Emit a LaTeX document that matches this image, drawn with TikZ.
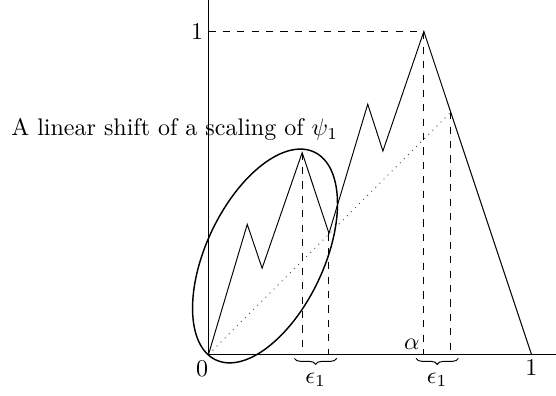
\documentclass[tikz,border=0pt]{standalone}
\usetikzlibrary{decorations.pathreplacing}

\begin{document}
\begin{tikzpicture}[
    x=4.73cm, y=4.73cm,
    axis line/.style={draw=black},
    graph line/.style={draw=black},
    guide line/.style={dashed, draw=black},
    diag line/.style={dotted, draw=black!70},
    zoom ring/.style={semithick, draw=black},
    eps brace/.style={decorate, decoration={brace, mirror, amplitude=2.5pt}}
]
\useasboundingbox (-0.6455,-0.1285) rectangle (1.0759,1.0975);

% 坐标轴
\coordinate (O) at (0,0);
\coordinate (Xend) at (1.0759,0);
\coordinate (Yend) at (0,1.0975);
\draw[axis line] (O) -- (Xend);
\draw[axis line] (O) -- (Yend);

% 折线顶点
\coordinate (P1) at (0.120,0.403);
\coordinate (P2) at (0.166,0.267);
\coordinate (P3) at (0.290,0.625);
\coordinate (P4) at (0.373,0.375);
\coordinate (P5) at (0.493,0.775);
\coordinate (P6) at (0.540,0.630);
\coordinate (P7) at (0.6667,1);
\coordinate (P8) at (1,0);
\coordinate (Q)  at (0.75,0.75);

\draw[graph line] (O) -- (P1) -- (P2) -- (P3) -- (P4) -- (P5) -- (P6) -- (P7) -- (P8);
\draw[diag line] (O) -- (Q);

% 虚线
\draw[guide line] (P7 -| O) -- (P7) -- (P7 |- O);
\foreach \p in {P3, P4, Q} \draw[guide line] (\p) -- (\p |- O);

% 椭圆
\coordinate (E) at (0.175,0.305);
\draw[zoom ring, rotate around={64.6:(E)}] (E) ellipse [x radius=0.356, y radius=0.182];

% 标签
\node[left, inner sep=2pt] (Ylab) at (P7 -| O) {1};
\node[below, inner sep=2pt] (Xlab) at (P8) {1};
\node[anchor=north east, inner sep=0pt] (Olab) at (0,-0.016) {0};
\node[anchor=south east, inner sep=0pt] (Alab) at (0.655,0.014) {$\alpha$};
\node[anchor=base west, inner sep=0pt] (Cap) at (-0.612,0.6765) {A linear shift of a scaling of $\psi_1$};

\foreach \s/\n in {0.29/A, 0.6667/B}
  \draw[eps brace] ({\s-0.024},-0.012) -- ({\s+0.107},-0.012) node[midway, below=2.5pt] (Eps\n) {$\epsilon_1$};

\end{tikzpicture}
\end{document}
